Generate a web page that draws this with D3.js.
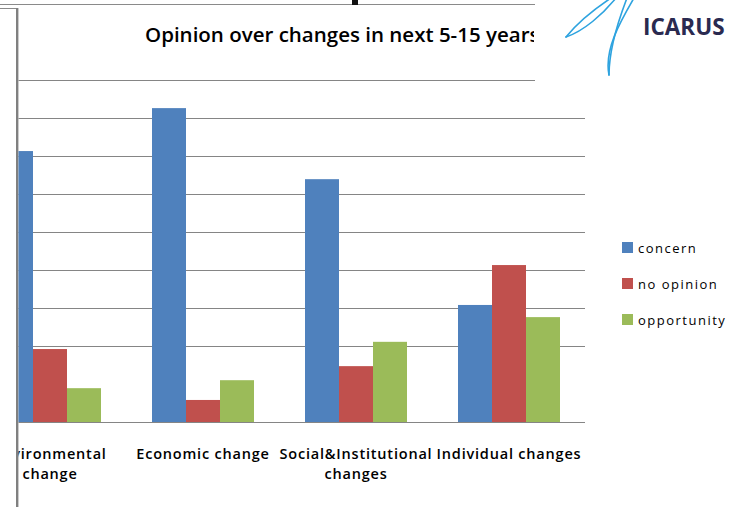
<!DOCTYPE html>
<html><head><meta charset="utf-8">
<script src="https://cdn.jsdelivr.net/npm/d3@7"></script>
<style>body{margin:0;background:#fff;}svg{display:block;}</style>
</head><body>
<svg id="c" width="738" height="507"></svg>
<script>
const categories = ["Environmental change", "Economic change", "Social&Institutional changes", "Individual changes"];
const categoryLines = [["Environmental","change"],["Economic change"],["Social&Institutional","changes"],["Individual changes"]];
const series = ["concern", "no opinion", "opportunity"];
const concern = [71.3, 82.6, 63.9, 30.8];
const noOpinion = [19.2, 5.8, 14.7, 41.3];
const opportunity = [8.9, 11.0, 21.1, 27.6];
const gridTicks = [20, 30, 40, 50, 60, 70, 80];
const topTick = [90];
const colors = ["#4f81bd", "#c0504d", "#9bbb59"];
const title = "Opinion over changes in next 5-15 years";

const values = [concern, noOpinion, opportunity];
const svg = d3.select("#c");
const x0 = d3.scaleBand().domain(categories).range([-26.5, 585.5]);
const bw = x0.bandwidth();
const x1 = d3.scaleBand().domain(series).range([bw/6, bw*5/6]);
const y = d3.scaleLinear().domain([0, 100]).range([422, 42]);

const defs = svg.append("defs");
defs.append("clipPath").attr("id","plotclip").append("rect").attr("x",18.5).attr("y",0).attr("width",720).attr("height",507);
defs.append("clipPath").attr("id","titleclip").append("rect").attr("x",0).attr("y",0).attr("width",534).attr("height",80);

// frame lines
svg.append("line").attr("x1",0).attr("x2",535).attr("y1",4.5).attr("y2",4.5).attr("stroke","#8a8a8a").attr("stroke-width",1);
svg.append("line").attr("x1",0).attr("x2",18).attr("y1",8.5).attr("y2",8.5).attr("stroke","#8a8a8a").attr("stroke-width",1);
svg.append("line").attr("x1",17.2).attr("x2",17.2).attr("y1",8).attr("y2",507).attr("stroke","#808080").attr("stroke-width",2.4);
// stray glyph fragment from the slide title
svg.append("rect").attr("x",352).attr("y",0).attr("width",6).attr("height",5).attr("fill","#111");

const plot = svg.append("g").attr("clip-path","url(#plotclip)");
// gridlines
plot.selectAll("line.g").data(gridTicks).join("line").attr("class","g")
  .attr("x1",18).attr("x2",585).attr("y1",d=>Math.round(y(d))+0.5).attr("y2",d=>Math.round(y(d))+0.5)
  .attr("stroke","#858585").attr("stroke-width",1.2);
plot.selectAll("line.t").data(topTick).join("line").attr("class","t")
  .attr("x1",18).attr("x2",535).attr("y1",d=>Math.round(y(d))+0.5).attr("y2",d=>Math.round(y(d))+0.5)
  .attr("stroke","#858585").attr("stroke-width",1);

// bars
const groups = plot.selectAll("g.cat").data(categories).join("g").attr("class","cat")
  .attr("transform", d=>`translate(${x0(d)},0)`);
groups.selectAll("rect").data((d,i)=>series.map((s,j)=>({s, v: values[j][i], j})))
  .join("rect")
  .attr("x", d=>x1(d.s)).attr("width", x1.bandwidth())
  .attr("y", d=>y(d.v)).attr("height", d=>y(0)-y(d.v))
  .attr("fill", d=>colors[d.j]);

// baseline
plot.append("line").attr("x1",18).attr("x2",585).attr("y1",422.5).attr("y2",422.5).attr("stroke","#858585").attr("stroke-width",1.2);

// category labels
const labels = plot.selectAll("text.cl").data(categories).join("text").attr("class","cl")
  .attr("text-anchor","middle")
  .attr("font-family","'Open Sans', sans-serif").attr("font-weight",600).attr("font-size",14.5)
  .attr("letter-spacing",0.8)
  .attr("fill","#000");
labels.each(function(d,i){
  const t = d3.select(this);
  categoryLines[i].forEach((ln,k)=>{
    t.append("tspan").attr("x", x0(d)+bw/2).attr("y", 459 + k*20).text(ln);
  });
});

// title
svg.append("text").attr("clip-path","url(#titleclip)")
  .attr("x",145).attr("y",42)
  .attr("font-family","'Open Sans', sans-serif").attr("font-weight",600).attr("font-size",20.5)
  .attr("fill","#000").text(title);

// legend
const lg = svg.append("g").attr("transform","translate(622,242)");
const li = lg.selectAll("g").data(series).join("g").attr("transform",(d,i)=>`translate(0,${i*36})`);
li.append("rect").attr("width",11).attr("height",11).attr("fill",(d,i)=>colors[i]);
li.append("text").attr("x",16).attr("y",10.5)
  .attr("font-family","'Open Sans', sans-serif").attr("font-size",13).attr("letter-spacing",1.5)
  .attr("fill","#000").text(d=>d);

// ICARUS logo
const logo = svg.append("g").attr("fill","none").attr("stroke","#2ea3df").attr("stroke-width",1.6).attr("stroke-linecap","round");
logo.append("path").attr("d","M566,37 C578,22 596,8 611,-2");
logo.append("path").attr("d","M566,37 C584,31 603,14 616,-2");
logo.append("path").attr("d","M634,-2 C620,22 604,50 609,75");
logo.append("path").attr("d","M609,75 C609,50 617,24 627,-2");
svg.append("text").attr("x",643).attr("y",35)
  .attr("font-family","'Open Sans', sans-serif").attr("font-weight",700).attr("font-size",22.5)
  .attr("fill","#2a2a50").text("ICARUS");
</script>
</body></html>
